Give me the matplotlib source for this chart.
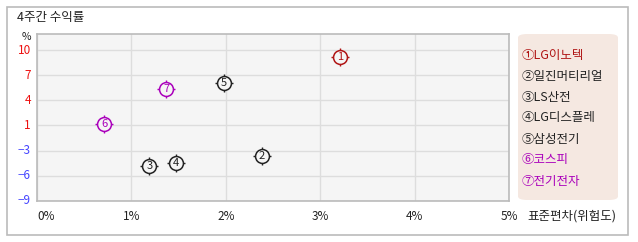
import matplotlib
matplotlib.use("Agg")
import matplotlib.pyplot as plt
from matplotlib.patches import FancyBboxPatch, Rectangle

plt.rcParams["font.family"] = ["Noto Sans CJK KR", "DejaVu Sans"]

# data
names = ["LG이노텍", "일진머티리얼", "LS산전", "LG디스플레", "삼성전기", "코스피", "전기전자"]
marks = ["①", "②", "③", "④", "⑤", "⑥", "⑦"]
nums = ["1", "2", "3", "4", "5", "6", "7"]
risk = [3.21, 2.38, 1.19, 1.47, 1.98, 0.71, 1.37]   # 표준편차 (%)
ret = [9.1, -3.3, -4.6, -4.2, 5.9, 0.7, 5.05]       # 4주간 수익률 (%)
colors = ["#b01515", "#222222", "#222222", "#222222", "#222222", "#aa00bb", "#aa00bb"]

x_ticks = [0, 1, 2, 3, 4, 5]
x_labels = ["0%", "1%", "2%", "3%", "4%", "5%"]
y_min, y_max = -9, 10
y_labels = ["-9", "-6", "-3", "1", "4", "7", "10"]

W, H = 638, 242
fig = plt.figure(figsize=(W / 100, H / 100), dpi=100)


def fx(px):
    return px / W


def fy(py):
    return 1 - py / H


# outer frame
fig.patches.append(Rectangle((fx(6.5), fy(235)), fx(621), 228 / H, transform=fig.transFigure,
                             fill=False, edgecolor="#bbbbbb", linewidth=1.2))

ax = fig.add_axes([fx(37), fy(201), fx(509 - 37), (201 - 34) / H])
ax.set_facecolor("#f5f5f5")
step = (y_max - y_min) / 6
y_ticks = [y_min + i * step for i in range(7)]
ax.set_xlim(0, 5)
ax.set_ylim(y_min, y_max + 16 / 151 * (y_max - y_min))
ax.set_xticks(x_ticks)
ax.set_yticks(y_ticks)
ax.set_xticklabels([])
ax.set_yticklabels([])
ax.tick_params(length=0)
ax.grid(True, color="#dddddd", linewidth=1)
ax.set_axisbelow(True)
for s in ax.spines.values():
    s.set_color("#bbbbbb")
    s.set_linewidth(1.2)

# tick labels
for xv, lab in zip(x_ticks, x_labels):
    px = 37 + xv * (509 - 37) / 5
    ha = "left" if xv == 0 else "center"
    fig.text(fx(px), fy(216), lab, ha=ha, va="center", fontsize=8.5, color="#222222")
for yv, lab in zip(y_ticks, y_labels):
    py = 201 - (yv - y_min) / (y_max - y_min) * 151
    c = "#ee1111" if float(lab) > 0 else "#4444ff"
    fig.text(fx(31), fy(py), lab.replace("-", "\u2212"), ha="right", va="center", fontsize=8.5, color=c)

fig.text(fx(17), fy(18), "4주간 수익률", ha="left", va="center", fontsize=9, color="#222222")
fig.text(fx(26), fy(37), "%", ha="center", va="center", fontsize=7.5, color="#222222")
fig.text(fx(527), fy(216), "표준편차(위험도)", ha="left", va="center", fontsize=9, color="#222222")

# points
for x, y, n, c in zip(risk, ret, nums, colors):
    ax.scatter([x], [y], marker="+", s=175, color=c, linewidths=1, zorder=3)
    ax.scatter([x], [y], marker="o", s=100, facecolor="#f5f5f5", edgecolor=c, linewidths=1.1, zorder=4)
    ax.text(x, y, n, ha="center", va="center", fontsize=8, color=c, zorder=5)

# legend box
fig.patches.append(FancyBboxPatch((fx(518), fy(200)), fx(100), 166 / H, transform=fig.transFigure,
                                  boxstyle="round,pad=0,rounding_size=0.015",
                                  facecolor="#f5e8e1", edgecolor="none"))
for i, (m, n, c) in enumerate(zip(marks, names, colors)):
    fig.text(fx(522), fy(55 + i * 21), m + n, ha="left", va="center", fontsize=9, color=c)

fig.savefig("out.png", dpi=100, facecolor="white")
